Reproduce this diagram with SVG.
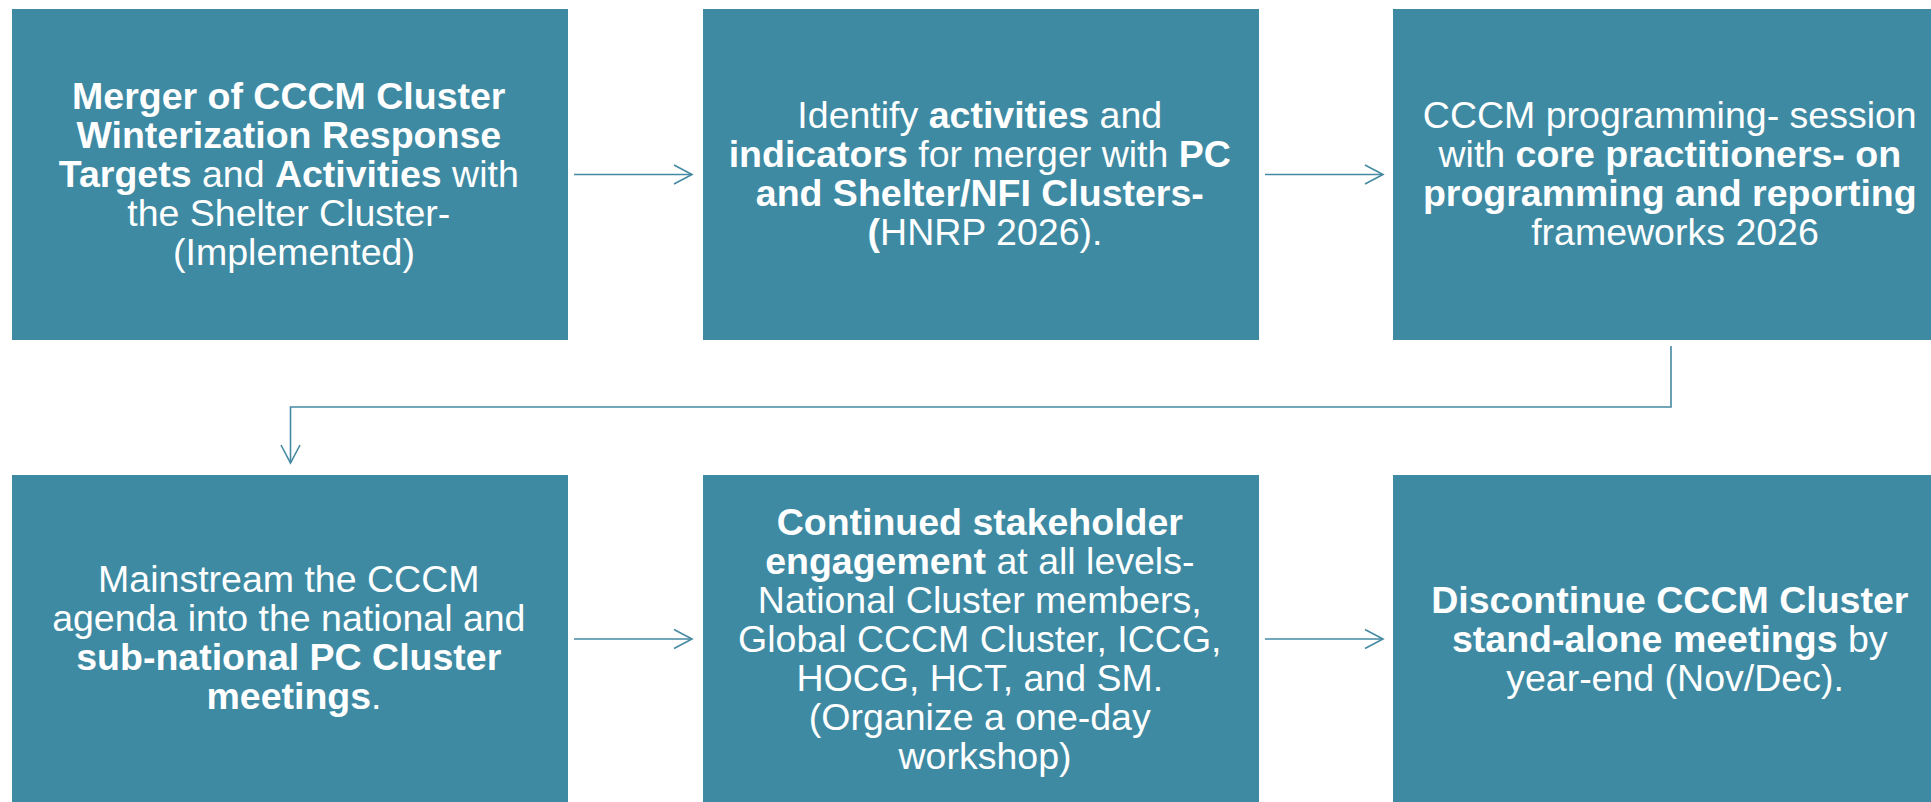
<svg xmlns="http://www.w3.org/2000/svg" width="1931" height="802" viewBox="0 0 1931 802">
<style>
.box{fill:#3E8AA3;}
.t{font-family:"Liberation Sans",Arial,sans-serif;font-size:37.5px;fill:#FFFFFF;text-anchor:middle;}
.b{font-weight:bold;}
.c{fill:none;stroke:#4589A2;stroke-width:1.6;}
.ah{fill:none;stroke:#4589A2;stroke-width:1.6;stroke-linejoin:miter;}
</style>
<defs>
<marker id="arr" markerUnits="userSpaceOnUse" markerWidth="24" markerHeight="24" viewBox="-20 -12 24 24" refX="0" refY="0" orient="auto" overflow="visible">
<path class="ah" d="M-18,-9.5 L0,0 L-18,9.5"/>
</marker>
</defs>
<rect width="1931" height="802" fill="#FFFFFF"/>
<g id="connectors">
<line class="c" x1="574" y1="174.5" x2="692" y2="174.5" marker-end="url(#arr)"/>
<line class="c" x1="1265" y1="174.5" x2="1383" y2="174.5" marker-end="url(#arr)"/>
<path class="c" d="M1671,346 V407 H290.5 V463" marker-end="url(#arr)"/>
<line class="c" x1="574" y1="639" x2="692" y2="639" marker-end="url(#arr)"/>
<line class="c" x1="1265" y1="639" x2="1383" y2="639" marker-end="url(#arr)"/>
</g>
<g id="node1">
<rect class="box" x="12" y="9" width="556" height="331"/>
<text class="t"><tspan class="b" x="294" y="109">Merger of CCCM Cluster</tspan>
<tspan class="b" x="294" y="148">Winterization Response</tspan>
<tspan x="294" y="187"><tspan class="b">Targets</tspan> and <tspan class="b">Activities</tspan> with</tspan>
<tspan x="294" y="226">the Shelter Cluster-</tspan>
<tspan x="294" y="265">(Implemented)</tspan></text>
</g>
<g id="node2">
<rect class="box" x="703" y="9" width="556" height="331"/>
<text class="t"><tspan x="985" y="128">Identify <tspan class="b">activities</tspan> and</tspan>
<tspan x="985" y="167"><tspan class="b">indicators</tspan> for merger with <tspan class="b">PC</tspan></tspan>
<tspan class="b" x="985" y="206">and Shelter/NFI Clusters-</tspan>
<tspan x="985" y="245"><tspan class="b">(</tspan>HNRP 2026).</tspan></text>
</g>
<g id="node3">
<rect class="box" x="1393" y="9" width="556" height="331"/>
<text class="t"><tspan x="1675" y="128">CCCM programming- session</tspan>
<tspan x="1675" y="167">with <tspan class="b">core practitioners- on</tspan></tspan>
<tspan class="b" x="1675" y="206">programming and reporting</tspan>
<tspan x="1675" y="245">frameworks 2026</tspan></text>
</g>
<g id="node4">
<rect class="box" x="12" y="475" width="556" height="331"/>
<text class="t"><tspan x="294" y="592">Mainstream the CCCM</tspan>
<tspan x="294" y="631">agenda into the national and</tspan>
<tspan class="b" x="294" y="670">sub-national PC Cluster</tspan>
<tspan x="294" y="709"><tspan class="b">meetings</tspan>.</tspan></text>
</g>
<g id="node5">
<rect class="box" x="703" y="475" width="556" height="331"/>
<text class="t"><tspan class="b" x="985" y="535">Continued stakeholder</tspan>
<tspan x="985" y="574"><tspan class="b">engagement</tspan> at all levels-</tspan>
<tspan x="985" y="613">National Cluster members,</tspan>
<tspan x="985" y="652">Global CCCM Cluster, ICCG,</tspan>
<tspan x="985" y="691">HOCG, HCT, and SM.</tspan>
<tspan x="985" y="730">(Organize a one-day</tspan>
<tspan x="985" y="769">workshop)</tspan></text>
</g>
<g id="node6">
<rect class="box" x="1393" y="475" width="556" height="331"/>
<text class="t"><tspan class="b" x="1675" y="613">Discontinue CCCM Cluster</tspan>
<tspan x="1675" y="652"><tspan class="b">stand-alone meetings</tspan> by</tspan>
<tspan x="1675" y="691">year-end (Nov/Dec).</tspan></text>
</g>
</svg>
